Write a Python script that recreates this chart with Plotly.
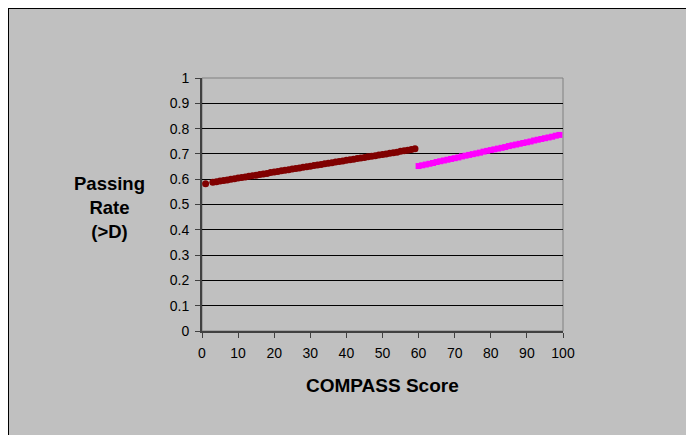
import plotly.graph_objects as go

# Series 1 (dark red): COMPASS score vs predicted passing rate
score_low = [1, 3, 4, 5, 6, 7, 8, 9, 10, 11, 12, 13, 14, 15, 16, 17, 18, 19, 20,
             21, 22, 23, 24, 25, 26, 27, 28, 29, 30, 31, 32, 33, 34, 35, 36, 37, 38, 39, 40,
             41, 42, 43, 44, 45, 46, 47, 48, 49, 50, 51, 52, 53, 54, 55, 56, 57, 58, 59]
rate_low = [0.582, 0.588, 0.590, 0.593, 0.595, 0.597, 0.600, 0.602, 0.605, 0.607,
            0.609, 0.612, 0.614, 0.616, 0.619, 0.621, 0.623, 0.626, 0.628, 0.630,
            0.633, 0.635, 0.637, 0.640, 0.642, 0.644, 0.647, 0.649, 0.651, 0.654,
            0.656, 0.658, 0.661, 0.663, 0.665, 0.668, 0.670, 0.672, 0.675, 0.677,
            0.679, 0.682, 0.684, 0.686, 0.689, 0.691, 0.693, 0.696, 0.698, 0.700,
            0.703, 0.705, 0.707, 0.710, 0.712, 0.714, 0.717, 0.720]

# Series 2 (magenta)
score_high = [60, 61, 62, 63, 64, 65, 66, 67, 68, 69, 70, 71, 72, 73, 74, 75, 76, 77, 78, 79,
              80, 81, 82, 83, 84, 85, 86, 87, 88, 89, 90, 91, 92, 93, 94, 95, 96, 97, 98, 99]
rate_high = [0.652, 0.655, 0.658, 0.661, 0.664, 0.668, 0.671, 0.674, 0.677, 0.680,
             0.683, 0.686, 0.690, 0.693, 0.696, 0.699, 0.702, 0.705, 0.709, 0.712,
             0.715, 0.718, 0.721, 0.724, 0.727, 0.731, 0.734, 0.737, 0.740, 0.743,
             0.746, 0.749, 0.753, 0.756, 0.759, 0.762, 0.765, 0.768, 0.772, 0.775]

y_ticks = [0, 0.1, 0.2, 0.3, 0.4, 0.5, 0.6, 0.7, 0.8, 0.9, 1]
y_labels = ["0", "0.1", "0.2", "0.3", "0.4", "0.5", "0.6", "0.7", "0.8", "0.9", "1"]
x_ticks = [0, 10, 20, 30, 40, 50, 60, 70, 80, 90, 100]

W, H = 694, 435
OFF = 8  # page body margin: figure is drawn 8px right/down of the window corner
# plot area in window pixels: x 202..563, y 78..331
L = 202 - OFF
T = 78 - OFF
R = W - (563 - OFF)
B = H - (331 - OFF)
pw, ph = W - L - R, H - T - B

def px_x(p):  # window pixel -> paper x
    return (p - OFF - L) / pw

def px_y(p):  # window pixel -> paper y
    return (H - B - (p - OFF)) / ph

FONT = "Liberation Sans, Arial, sans-serif"

fig = go.Figure()
fig.add_trace(go.Scatter(x=score_low, y=rate_low, mode="markers",
                         marker=dict(color="#800000", size=7, symbol="circle", line=dict(width=0)),
                         showlegend=False))
fig.add_trace(go.Scatter(x=score_high, y=rate_high, mode="markers",
                         marker=dict(color="#FF00FF", size=6, symbol="square", line=dict(width=0)),
                         showlegend=False))

shapes = [
    # chart area background with border
    dict(type="rect", xref="paper", yref="paper", layer="below",
         x0=px_x(8), x1=px_x(720), y0=px_y(460), y1=px_y(8),
         fillcolor="#C0C0C0", line=dict(color="#000000", width=2)),
    # plot area border (gray)
    dict(type="rect", xref="paper", yref="paper", layer="below",
         x0=0, x1=1, y0=0, y1=1, line=dict(color="#808080", width=1)),
]

fig.update_layout(
    width=W, height=H,
    margin=dict(l=L, r=R, t=T, b=B, autoexpand=False),
    paper_bgcolor="#FFFFFF",
    plot_bgcolor="rgba(0,0,0,0)",
    font=dict(family=FONT, size=14, color="#000000"),
    shapes=shapes,
    xaxis=dict(range=[0, 100], tickvals=x_ticks, ticks="outside", ticklen=5,
               tickcolor="#404040", tickwidth=1, showgrid=False, zeroline=False,
               showline=True, linecolor="#404040", linewidth=2,
               ticklabelstandoff=3,
               tickfont=dict(size=14, family=FONT), fixedrange=True),
    yaxis=dict(range=[0, 1], tickvals=y_ticks, ticktext=y_labels, ticks="outside",
               ticklen=5, tickcolor="#404040", tickwidth=1,
               showgrid=True, gridcolor="#000000", gridwidth=1, zeroline=False,
               showline=True, linecolor="#404040", linewidth=2,
               ticklabelstandoff=3,
               tickfont=dict(size=14, family=FONT), fixedrange=True),
    annotations=[
        dict(text="<b>COMPASS Score</b>", xref="paper", yref="paper",
             x=0.5, y=px_y(385), xanchor="center", yanchor="middle",
             showarrow=False, font=dict(size=19, family=FONT)),
        dict(text="<b>Passing<br>Rate<br>(>D)</b>", xref="paper", yref="paper",
             x=px_x(109), y=px_y(208), xanchor="center", yanchor="middle",
             showarrow=False, align="center", font=dict(size=18.5, family=FONT)),
    ],
)

fig.write_html("out.html")
